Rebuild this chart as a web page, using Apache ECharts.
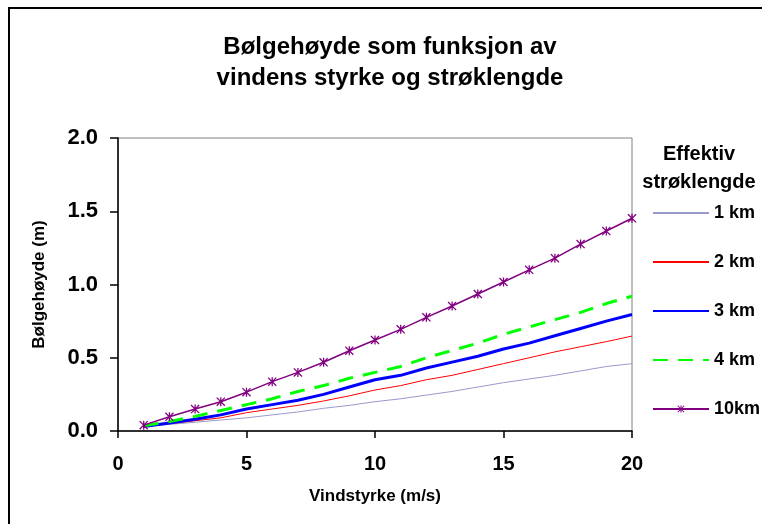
<!DOCTYPE html>
<html>
<head>
<meta charset="utf-8">
<script src="https://cdn.jsdelivr.net/npm/echarts@6/dist/echarts.min.js"></script>
<style>
  html, body { margin: 0; padding: 0; background: #fff; }
  #chart { width: 762px; height: 524px; }
</style>
</head>
<body>
<div id="chart"></div>
<script>
const wind = [1, 2, 3, 4, 5, 6, 7, 8, 9, 10, 11, 12, 13, 14, 15, 16, 17, 18, 19, 20];
const km1 = [0.03, 0.045, 0.06, 0.075, 0.09, 0.11, 0.13, 0.155, 0.175, 0.2, 0.22, 0.245, 0.27, 0.3, 0.33, 0.355, 0.38, 0.41, 0.44, 0.46];
const km2 = [0.03, 0.05, 0.07, 0.09, 0.125, 0.15, 0.175, 0.205, 0.24, 0.28, 0.31, 0.35, 0.38, 0.42, 0.46, 0.5, 0.54, 0.575, 0.61, 0.648];
const km3 = [0.03, 0.055, 0.08, 0.11, 0.15, 0.18, 0.21, 0.25, 0.3, 0.35, 0.38, 0.43, 0.47, 0.51, 0.56, 0.6, 0.65, 0.7, 0.75, 0.795];
const km4 = [0.035, 0.065, 0.1, 0.14, 0.18, 0.22, 0.27, 0.31, 0.36, 0.4, 0.44, 0.5, 0.55, 0.6, 0.66, 0.71, 0.76, 0.81, 0.87, 0.92];
const km10 = [0.04, 0.097, 0.15, 0.2, 0.265, 0.337, 0.4, 0.469, 0.548, 0.621, 0.694, 0.776, 0.853, 0.935, 1.017, 1.1, 1.18, 1.276, 1.365, 1.452];
const seriesNames = ["1 km", "2 km", "3 km", "4 km", "10km"];

const font = "Liberation Sans, Arial, sans-serif";
const star = "path://M4.3 0L5.7 0L5.7 10L4.3 10Z M0 1L1 0L10 9L9 10Z M9 0L10 1L1 10L0 9Z";

const pairs = (ys) => wind.map((x, i) => [x, ys[i]]);

const chart = echarts.init(document.getElementById("chart"));
chart.setOption({
  animation: false,
  textStyle: { fontFamily: font },
  title: [
    {
      text: "Bølgehøyde som funksjon av\nvindens styrke og strøklengde",
      left: 385,
      top: 27,
      textAlign: "center",
      textStyle: { fontSize: 24, fontWeight: "bold", color: "#000", lineHeight: 31, fontFamily: font },
    },
    {
      text: "Effektiv\nstrøklengde",
      left: 694,
      top: 135,
      textAlign: "center",
      textStyle: { fontSize: 20, fontWeight: "bold", color: "#000", lineHeight: 28, fontFamily: font },
    },
  ],
  graphic: [
    {
      type: "rect",
      shape: { x: 9, y: 8, width: 800, height: 560 },
      style: { fill: "none", stroke: "#000", lineWidth: 2 },
      silent: true,
    },
  ],
  legend: {
    orient: "vertical",
    left: 647,
    top: 199,
    itemWidth: 56,
    itemHeight: 9,
    itemGap: 31,
    data: seriesNames.map((n) => (n === "10km" ? { name: n } : { name: n, itemStyle: { opacity: 0 } })),
    textStyle: { fontSize: 18, lineHeight: 18, fontWeight: "bold", color: "#000", fontFamily: font },
  },
  grid: {
    left: 118,
    right: 130,
    top: 138,
    bottom: 93,
    show: true,
    borderColor: "#808080",
    borderWidth: 1,
  },
  xAxis: {
    type: "value",
    min: 0,
    max: 20,
    interval: 5,
    name: "Vindstyrke (m/s)",
    nameLocation: "middle",
    nameGap: 57,
    nameTextStyle: { fontSize: 17, fontWeight: "bold", color: "#000" },
    axisLine: { lineStyle: { color: "#000", width: 1.5 } },
    axisTick: { length: 7, lineStyle: { color: "#000", width: 1.5 } },
    axisLabel: { fontSize: 20, fontWeight: "bold", color: "#000", margin: 23 },
    splitLine: { show: false },
  },
  yAxis: {
    type: "value",
    min: 0,
    max: 2,
    interval: 0.5,
    name: "Bølgehøyde (m)",
    nameLocation: "middle",
    nameGap: 70,
    nameTextStyle: { fontSize: 17, fontWeight: "bold", color: "#000" },
    axisLine: { show: true, lineStyle: { color: "#000", width: 1.5 } },
    axisTick: { show: true, length: 8, lineStyle: { color: "#000", width: 1.5 } },
    axisLabel: {
      fontSize: 22,
      fontWeight: "bold",
      color: "#000",
      margin: 20,
      formatter: (v) => v.toFixed(1),
    },
    splitLine: { show: false },
  },
  series: [
    {
      name: "1 km",
      type: "line",
      data: pairs(km1),
      symbol: "none",
      lineStyle: { color: "#9999cc", width: 1 },
      itemStyle: { color: "#9999cc" },
    },
    {
      name: "2 km",
      type: "line",
      data: pairs(km2),
      symbol: "none",
      lineStyle: { color: "#ff0000", width: 1 },
      itemStyle: { color: "#ff0000" },
    },
    {
      name: "3 km",
      type: "line",
      data: pairs(km3),
      symbol: "none",
      lineStyle: { color: "#0000ff", width: 3 },
      itemStyle: { color: "#0000ff" },
    },
    {
      name: "4 km",
      type: "line",
      data: pairs(km4),
      symbol: "none",
      lineStyle: { color: "#00ff00", width: 3, type: [15, 10] },
      itemStyle: { color: "#00ff00" },
    },
    {
      name: "10km",
      type: "line",
      data: pairs(km10),
      symbol: star,
      symbolSize: 9,
      lineStyle: { color: "#800080", width: 1.5 },
      itemStyle: { color: "#800080" },
    },
  ],
});
</script>
</body>
</html>
